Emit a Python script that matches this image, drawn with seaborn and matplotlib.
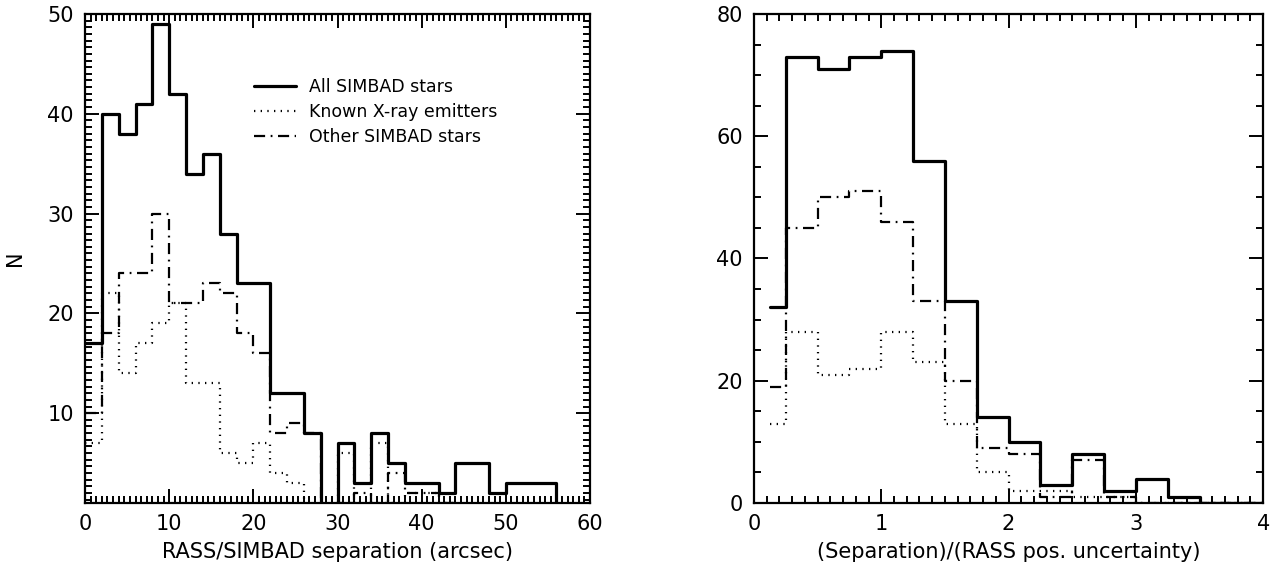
import numpy as np
import pandas as pd
import matplotlib
matplotlib.use("Agg")
import matplotlib.pyplot as plt
import seaborn as sns
from matplotlib.lines import Line2D
from matplotlib.ticker import MultipleLocator

# --- dados ---
# painel esquerdo: separação RASS/SIMBAD (arcsec), bins de 2"
sep_edges = list(range(0, 62, 2))
sep_all = [17, 40, 38, 41, 49, 42, 34, 36, 28, 23, 23, 12, 12, 8, 0,
           7, 3, 8, 5, 3, 3, 2, 5, 5, 2, 3, 3, 3, 0, 0]
sep_known = [7, 22, 14, 17, 19, 21, 13, 13, 6, 5, 7, 4, 3, 0, 0,
             6, 1, 7, 1, 2, 2, 1, 0, 0, 0, 0, 0, 0, 0, 0]
sep_other = [10, 18, 24, 24, 30, 21, 21, 23, 22, 18, 16, 8, 9, 8, 0,
             1, 2, 1, 4, 2, 2, 1, 0, 0, 0, 0, 0, 0, 0, 0]

# painel direito: separação / incerteza posicional RASS
rat_edges = [0.125] + [0.25 * k for k in range(1, 17)]
rat_all = [32, 73, 71, 73, 74, 56, 33, 14, 10, 3, 8, 2, 4, 1, 0, 0]
rat_known = [13, 28, 21, 22, 28, 23, 13, 5, 2, 2, 1, 1, 0, 0, 0, 0]
rat_other = [19, 45, 50, 51, 46, 33, 20, 9, 8, 1, 7, 1, 0, 0, 0, 0]

series = ['All SIMBAD stars', 'Known X-ray emitters', 'Other SIMBAD stars']
estilos = {
    'All SIMBAD stars': dict(linestyle='-', linewidth=2.3),
    'Known X-ray emitters': dict(linestyle=(0, (0.6, 2.4)), linewidth=1.6),
    'Other SIMBAD stars': dict(linestyle=(0, (5, 2.5, 0.8, 2.5)), linewidth=1.6),
}


def monta_df(edges, valores):
    e = np.asarray(edges, dtype=float)
    centros = (e[:-1] + e[1:]) / 2
    partes = []
    for nome, v in zip(series, valores):
        partes.append(pd.DataFrame({'x': centros, 'n': v, 'serie': nome}))
    return pd.concat(partes, ignore_index=True)


sns.set_theme(style="ticks")
plt.rcParams['font.family'] = ['DejaVu Sans']
plt.rcParams['axes.linewidth'] = 1.6
plt.rcParams['text.color'] = 'black'
plt.rcParams['axes.labelcolor'] = 'black'
plt.rcParams['xtick.labelcolor'] = 'black'
plt.rcParams['ytick.labelcolor'] = 'black'

fig = plt.figure(figsize=(12.73, 5.72), dpi=100)
ax1 = fig.add_axes([0.0668, 0.1206, 0.3967, 0.855])
ax2 = fig.add_axes([0.5923, 0.1206, 0.4000, 0.855])

paineis = [
    (ax1, monta_df(sep_edges, [sep_all, sep_known, sep_other]), sep_edges),
    (ax2, monta_df(rat_edges, [rat_all, rat_known, rat_other]), rat_edges),
]

for ax, df, edges in paineis:
    for nome in series:
        sub = df[df['serie'] == nome]
        sns.histplot(x=sub['x'].values, weights=sub['n'].values, bins=edges,
                     element='step', fill=False, color='black', ax=ax,
                     **estilos[nome])

# eixos do painel esquerdo
ax1.set_xlim(0, 60)
ax1.set_ylim(1, 50)
ax1.xaxis.set_major_locator(MultipleLocator(10))
ax1.xaxis.set_minor_locator(MultipleLocator(10 / 15))
ax1.yaxis.set_major_locator(MultipleLocator(10))
ax1.yaxis.set_minor_locator(MultipleLocator(10 / 15))
ax1.set_xlabel('RASS/SIMBAD separation (arcsec)', fontsize=15, labelpad=6)
ax1.set_ylabel('N', fontsize=15, labelpad=16)

# eixos do painel direito
ax2.set_xlim(0, 4)
ax2.set_ylim(0, 80)
ax2.xaxis.set_major_locator(MultipleLocator(1))
ax2.xaxis.set_minor_locator(MultipleLocator(0.1))
ax2.yaxis.set_major_locator(MultipleLocator(20))
ax2.yaxis.set_minor_locator(MultipleLocator(5))
ax2.set_xlabel('(Separation)/(RASS pos. uncertainty)', fontsize=15, labelpad=6)
ax2.set_ylabel('')

for ax in (ax1, ax2):
    ax.tick_params(which='both', top=True, right=True, direction='in',
                   color='black', width=1.4)
    ax.tick_params(which='major', length=10, labelsize=15, pad=8)
    ax.tick_params(which='minor', length=5)
    for s in ax.spines.values():
        s.set_color('black')

handles = [Line2D([], [], color='black', **estilos[n]) for n in series]
ax1.legend(handles, series, loc='upper left', bbox_to_anchor=(0.335, 0.869),
           frameon=False, fontsize=12.5, handlelength=2.4, handletextpad=0.75,
           labelspacing=0.4, borderpad=0, borderaxespad=0)

fig.savefig('out.png', dpi=100)
